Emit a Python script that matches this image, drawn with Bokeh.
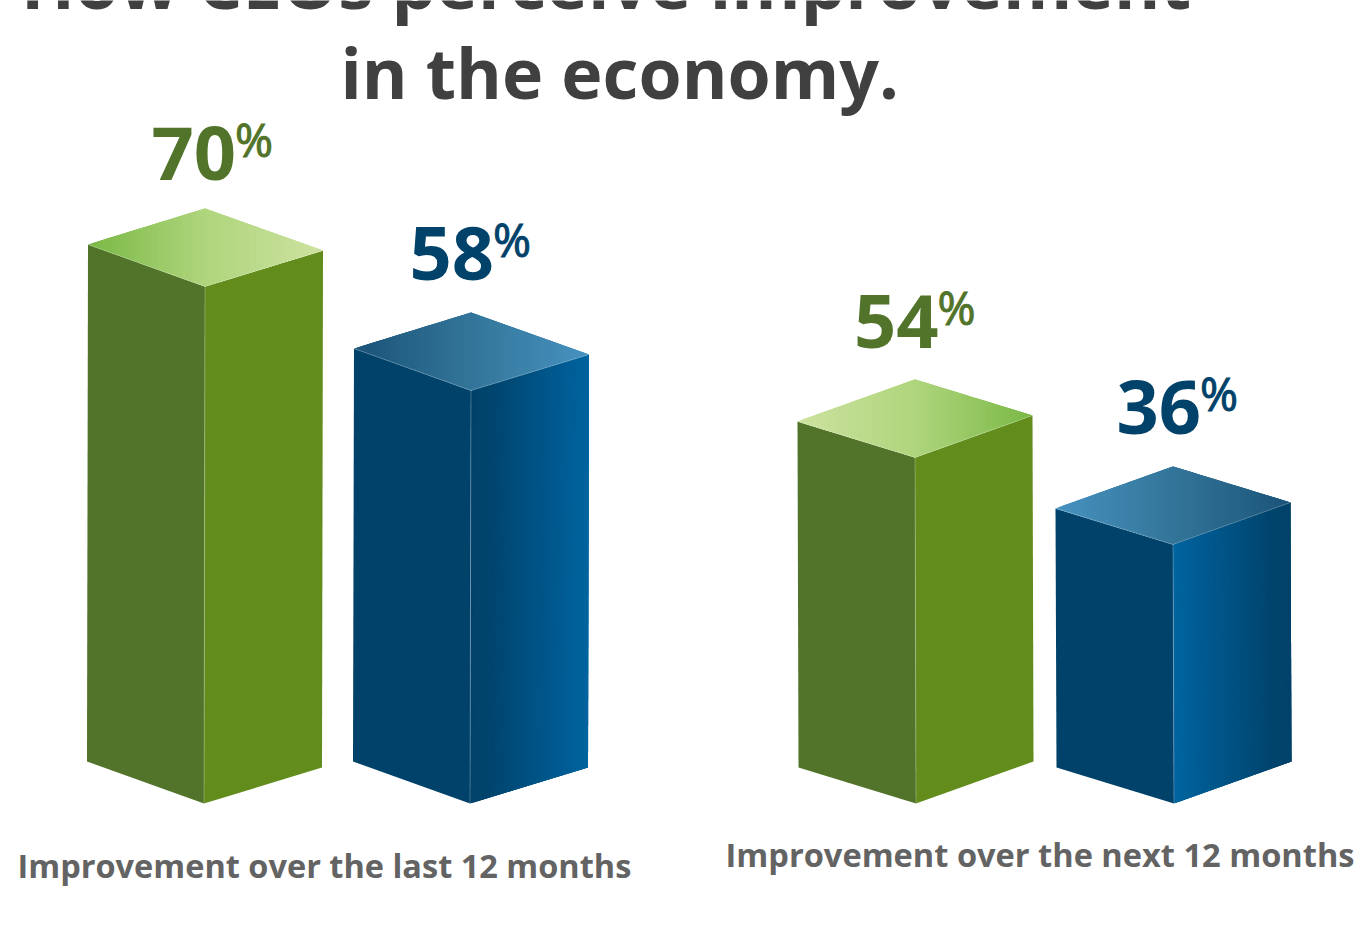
from bokeh.core.properties import value
from bokeh.embed import file_html
from bokeh.models import Range1d
from bokeh.plotting import figure
from bokeh.resources import INLINE

# Survey results
periods = ["Improvement over the last 12 months", "Improvement over the next 12 months"]
ceo_share = [70, 54]
other_share = [58, 36]
title_lines = ["How CEOs perceive improvement", "in the economy."]

WIDTH, HEIGHT = 1355, 942
GREY_TITLE, GREY_LABEL = "#404040", "#636363"
GREEN_TEXT, BLUE_TEXT = "#52742a", "#00426a"
FONT = "Open Sans"
BASELINE_SHIFT = 0.38  # the svg backend sets alphabetic text lower, by this share of the size

# Each period has its own value scale: baseline value and pixels per point
SCALES = [
    {"name": "last", "floor": 10.35, "ppu": 8.667, "rise_l": 42, "rise_r": 36, "lean": 1},
    {"name": "next", "floor": -17.6, "ppu": 4.833, "rise_l": 36, "rise_r": 42, "lean": -1},
]
BASE_PX = 803
BAR_LEFT = [[86.5, 352.5], [798, 1056]]
FRONT_OFFSET = [117, 117.5]
BAR_SPAN = 235
OVERLAP = 3  # strips reach this many steps ahead, which hides the seams


def hex_rgb(c):
    return tuple(int(c[i:i + 2], 16) for i in (1, 3, 5))


def ramp(stops, t):
    for (t0, c0), (t1, c1) in zip(stops, stops[1:]):
        if t <= t1:
            f = (t - t0) / (t1 - t0) if t1 > t0 else 0
            a, b = hex_rgb(c0), hex_rgb(c1)
            return "#%02x%02x%02x" % tuple(round(a[i] + (b[i] - a[i]) * f) for i in range(3))
    return stops[-1][1]


def flip(stops):
    return [(1 - t, c) for t, c in reversed(stops)]


GREEN_LEFT = [(0, "#52742a"), (1, "#52742a")]
GREEN_RIGHT = [(0, "#628d1d"), (1, "#628d1d")]
GREEN_TOP = [(0, "#7ab845"), (0.5, "#afd57d"), (1, "#cde29f")]
BLUE_LEFT = [(0, "#00426a"), (1, "#00426a")]
BLUE_RIGHT = [(0, "#00426a"), (0.18, "#00456e"), (1, "#00649f")]
BLUE_TOP = [(0, "#1a5478"), (0.5, "#337599"), (1, "#4792c0")]

p = figure(
    width=WIDTH, height=HEIGHT, output_backend="svg", toolbar_location=None,
    x_range=Range1d(0, WIDTH), y_range=Range1d(HEIGHT, 0),
    x_axis_type=None, y_axis_type=None, min_border=0, outline_line_color=None,
    background_fill_color="white", border_fill_color="white",
)
p.grid.visible = False

for s in SCALES:
    p.extra_y_ranges[s["name"]] = Range1d(
        s["floor"] + (BASE_PX - HEIGHT) / s["ppu"],
        s["floor"] + BASE_PX / s["ppu"],
    )


def draw_face(rng, stops, x_bot, x_top, y_bot, y_top, n):
    """Side face drawn as overlapping strips so a horizontal colour ramp reads smoothly."""
    def at(pair, t):
        return pair[0] + (pair[1] - pair[0]) * t

    xs, ys, cols = [], [], []
    for i in range(n):
        a, b = i / n, min(1, (i + OVERLAP) / n)
        xs.append([at(x_bot, a), at(x_bot, b), at(x_top, b), at(x_top, a)])
        ys.append([at(y_bot, a), at(y_bot, b), at(y_top, b), at(y_top, a)])
        cols.append(ramp(stops, (i + 0.5) / n))
    p.patches(xs, ys, fill_color=cols, line_color=None, y_range_name=rng)


def draw_top(rng, stops, left, back, right, front, n=70):
    """Top rhombus sliced along x, coloured by the slice's horizontal position."""
    def edge(x, mid):
        if x <= mid[0]:
            return left[1] + (mid[1] - left[1]) * (x - left[0]) / (mid[0] - left[0])
        return mid[1] + (right[1] - mid[1]) * (x - mid[0]) / (right[0] - mid[0])

    xs, ys, cols = [], [], []
    span = right[0] - left[0]
    for i in range(n):
        x0 = left[0] + span * i / n
        x1 = left[0] + span * min(1, (i + OVERLAP) / n)
        kink_low = [front] if x0 < front[0] < x1 else []
        kink_up = [back] if x0 < back[0] < x1 else []
        pts = [(x0, edge(x0, front))] + kink_low + [(x1, edge(x1, front)), (x1, edge(x1, back))] \
            + kink_up + [(x0, edge(x0, back))]
        xs.append([q[0] for q in pts])
        ys.append([q[1] for q in pts])
        cols.append(ramp(stops, (i + 0.5) / n))
    p.patches(xs, ys, fill_color=cols, line_color=None, y_range_name=rng)


def draw_bar(s, x0, front_offset, val, palette):
    ppu, rl, rr, lean, rng = s["ppu"], s["rise_l"], s["rise_r"], s["lean"], s["name"]
    fx = x0 + front_offset
    rx = x0 + BAR_SPAN
    floor = s["floor"]
    draw_face(rng, palette["left"], (x0, fx), (x0 + lean, fx + lean),
              (floor + rl / ppu, floor), (val + rl / ppu, val), 1)
    draw_face(rng, palette["right"], (fx, rx), (fx + lean, rx + lean),
              (floor, floor + rr / ppu), (val, val + rr / ppu), palette["steps"])
    left = (x0 + lean, val + rl / ppu)
    right = (rx + lean, val + rr / ppu)
    front = (fx + lean, val)
    back = (fx + lean, val + (rl + rr) / ppu)
    draw_top(rng, palette["top"], left, back, right, front)
    # Fine highlights along the front edges of the prism
    p.multi_line(
        [[left[0], front[0], right[0]], [fx, fx + lean]],
        [[left[1], front[1], right[1]], [floor, val]],
        line_color="white", line_alpha=0.3, line_width=0.8, y_range_name=rng,
    )


for g, s in enumerate(SCALES):
    mirror = g == 1
    green = {"left": GREEN_LEFT, "right": GREEN_RIGHT,
             "top": flip(GREEN_TOP) if mirror else GREEN_TOP, "steps": 1}
    blue = {"left": BLUE_LEFT, "right": flip(BLUE_RIGHT) if mirror else BLUE_RIGHT,
            "top": flip(BLUE_TOP) if mirror else BLUE_TOP, "steps": 60}
    draw_bar(s, BAR_LEFT[g][0], FRONT_OFFSET[g], ceo_share[g], green)
    draw_bar(s, BAR_LEFT[g][1], FRONT_OFFSET[g], other_share[g], blue)


def label(x, y, text, size, color, weight="bold", outline=None):
    p.text([x], [y - BASELINE_SHIFT * size], text=[text], text_font=value(FONT),
           text_font_size=f"{size}px", text_font_style=weight, text_color=color,
           text_align="left", text_baseline="alphabetic", text_outline_color=outline)


label(20.5, 8.5, title_lines[0], 70.6, GREY_TITLE)
label(340, 97.5, title_lines[1], 69.8, GREY_TITLE)

value_px = [[(151, 181), (409, 281)], [(853.5, 349), (1116, 435)]]
for g in range(2):
    for j, (v, col) in enumerate(((ceo_share[g], GREEN_TEXT), (other_share[g], BLUE_TEXT))):
        x, y = value_px[g][j]
        label(x, y, str(v), 74, col)
        label(x + 83.5, y - 25, "%", 46, col, "normal", col)

label(17, 877, periods[0], 32.5, GREY_LABEL)
label(725, 866, periods[1], 32.6, GREY_LABEL)

open("out.html", "w").write(file_html(p, INLINE))
